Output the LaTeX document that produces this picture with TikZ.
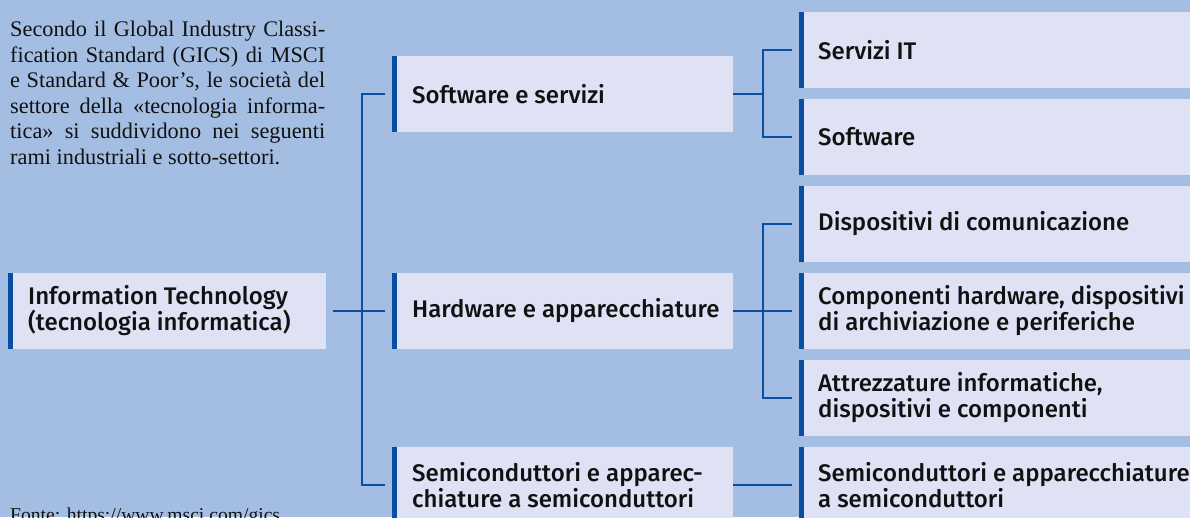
\documentclass[tikz,border=0pt]{standalone}
\usepackage{fontspec}
\setmainfont{Liberation Serif}
\newfontfamily\boxfont{Fira Sans Medium}
\definecolor{bgc}{RGB}{164,190,227}
\definecolor{boxc}{RGB}{223,226,244}
\definecolor{barc}{RGB}{10,78,160}
\definecolor{txt}{RGB}{17,17,17}
\newcommand{\jline}[1]{\makebox[315pt][s]{#1}}
\tikzset{
  catbox/.style={rectangle, fill=boxc, anchor=west, minimum height=76pt, inner sep=0pt,
    path picture={\fill[barc] (path picture bounding box.north west) rectangle ([xshift=4.5pt]path picture bounding box.south west);}},
  boxtext/.style={anchor=west, inner sep=0pt, align=left, text=txt,
    font=\boxfont\fontsize{24}{26}\selectfont},
  conn/.style={draw=barc, line width=1.3pt}
}
\begin{document}
\begin{tikzpicture}[x=1pt,y=-1pt]
\fill[bgc] (0,0) rectangle (1190,517);
\useasboundingbox (0,0) rectangle (1190,517);
\clip (0,0) rectangle (1190,517);

\node[anchor=base west, inner sep=0pt, align=left, text=txt,
  font=\fontsize{22.3}{25.5}\selectfont] (intro) at (10,164)
  {\jline{Secondo il Global Industry Classi-}\\
   \jline{fication Standard (GICS) di MSCI}\\
   \jline{e Standard \& Poor’s, le società del}\\
   \jline{settore della «tecnologia informa-}\\
   \jline{tica» si suddividono nei seguenti}\\
   rami industriali e sotto-settori.};
\node[anchor=base west, inner sep=0pt, text=txt, font=\fontsize{19.6}{23}\selectfont] (src) at (10,521) {Fonte: https://www.msci.com/gics};

\node[catbox, minimum width=318pt] (it) at (8,311) {};
\node[catbox, minimum width=341pt] (sw) at (392,94) {};
\node[catbox, minimum width=341pt] (hw) at (392,311) {};
\node[catbox, minimum width=341pt] (sc) at (392,485) {};
\node[catbox, minimum width=391pt] (r1) at (799,50) {};
\node[catbox, minimum width=391pt] (r2) at (799,137) {};
\node[catbox, minimum width=391pt] (r3) at (799,224) {};
\node[catbox, minimum width=391pt] (r4) at (799,311) {};
\node[catbox, minimum width=391pt] (r5) at (799,398) {};
\node[catbox, minimum width=391pt] (r6) at (799,485) {};

\node[boxtext] (it-t) at ([xshift=20pt]it.west) {Information Technology\\(tecnologia informatica)};
\node[boxtext] (sw-t) at ([xshift=20pt]sw.west) {Software e servizi};
\node[boxtext] (hw-t) at ([xshift=20pt]hw.west) {Hardware e apparecchiature};
\node[boxtext] (sc-t) at ([xshift=20pt]sc.west) {Semiconduttori e apparec-\\chiature a semiconduttori};
\node[boxtext] (r1-t) at ([xshift=19pt]r1.west) {Servizi IT};
\node[boxtext] (r2-t) at ([xshift=19pt]r2.west) {Software};
\node[boxtext] (r3-t) at ([xshift=19pt]r3.west) {Dispositivi di comunicazione};
\node[boxtext] (r4-t) at ([xshift=19pt]r4.west) {Componenti hardware, dispositivi\\di archiviazione e periferiche};
\node[boxtext] (r5-t) at ([xshift=19pt]r5.west) {Attrezzature informatiche,\\dispositivi e componenti};
\node[boxtext] (r6-t) at ([xshift=19pt]r6.west) {Semiconduttori e apparecchiature\\a semiconduttori};

\coordinate (tl) at (362,0);
\coordinate (tr) at (763,0);

\draw[conn] ([xshift=7pt]it.east) -- ([xshift=-7pt]hw.west);
\draw[conn] ([xshift=-7pt]sw.west) -- (sw.west -| tl) -- (sc.west -| tl) -- ([xshift=-7pt]sc.west);

\draw[conn] (sw.east) -- (sw.east -| tr);
\draw[conn] ([xshift=-7pt]r1.west) -- (r1.west -| tr) -- (r2.west -| tr) -- ([xshift=-7pt]r2.west);
\draw[conn] (hw.east) -- ([xshift=-7pt]r4.west);
\draw[conn] ([xshift=-7pt]r3.west) -- (r3.west -| tr) -- (r5.west -| tr) -- ([xshift=-7pt]r5.west);
\draw[conn] (sc.east) -- ([xshift=-7pt]r6.west);
\end{tikzpicture}
\end{document}
